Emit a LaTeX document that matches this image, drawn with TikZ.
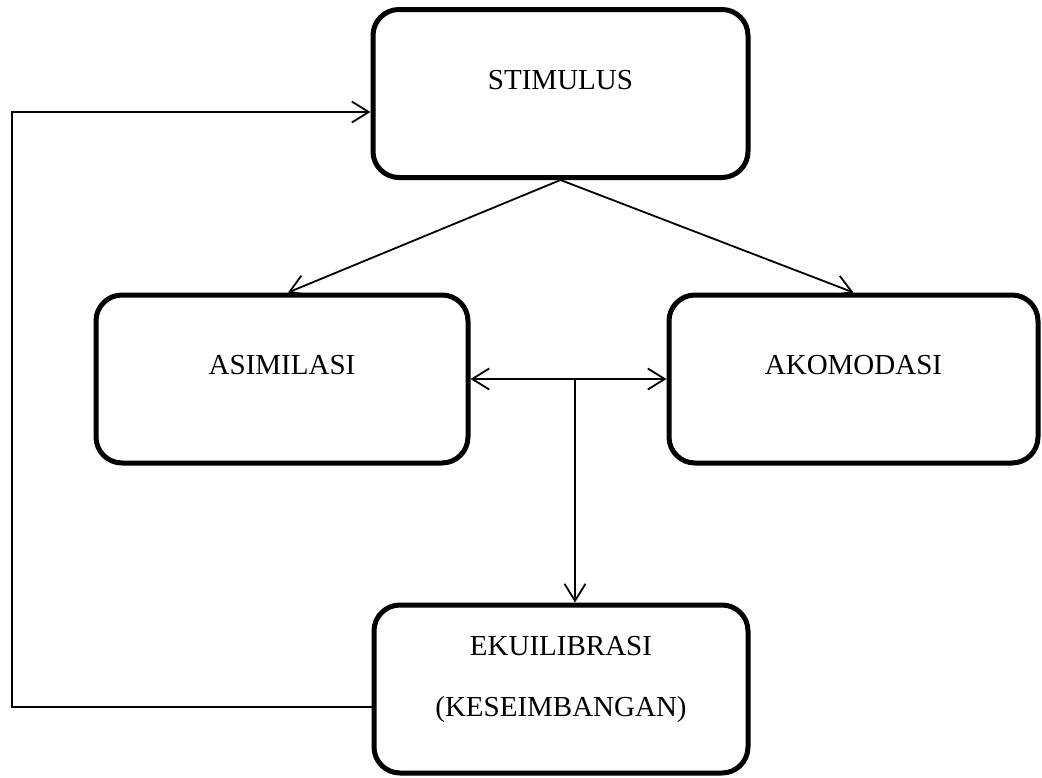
\documentclass[tikz,border=0pt]{standalone}
\usepackage{fontspec}
\setmainfont{Liberation Serif}
\usetikzlibrary{arrows.meta,calc}
\tikzset{
  blok/.style={draw, line width=5pt, rounded corners=26pt, inner sep=0pt,
    minimum height=168pt, text depth=28pt, font=\fontsize{29}{35}\selectfont},
  conn/.style={line width=1.8pt, -{Straight Barb[length=17pt, width=21pt]}}
}
\begin{document}
\begin{tikzpicture}[x=1pt, y=-1pt]
      \useasboundingbox (0, 0) rectangle (1042, 777);
      \node [blok, minimum width=375pt] (stim) at (560.5, 93.5) {STIMULUS};
      \node [blok, minimum width=372pt] (asim) at (282, 379) {ASIMILASI};
      \node [blok, minimum width=369pt] (akom) at (853.5, 379) {AKOMODASI};
      \node [blok, minimum width=374pt, align=center, text depth=25pt] (ekui) at (561, 689) {EKUILIBRASI\\[26pt](KESEIMBANGAN)};
      \coordinate (split) at (575, 379);
      \coordinate (loop) at (12, 112);
      \draw [conn] (stim.south) -- ($(asim.north) + (6, 0)$);
      \draw [conn] (stim.south) -- (akom.north);
      \draw [conn, {Straight Barb[length=17pt, width=21pt]}-{Straight Barb[length=17pt, width=21pt]}] (asim.east) -- (akom.west);
      \draw [conn] (split) -- (split |- ekui.north);
      \draw [conn] ([yshift=-18pt]ekui.west) -| (loop) -- (loop -| stim.west);
    \end{tikzpicture}
\end{document}
